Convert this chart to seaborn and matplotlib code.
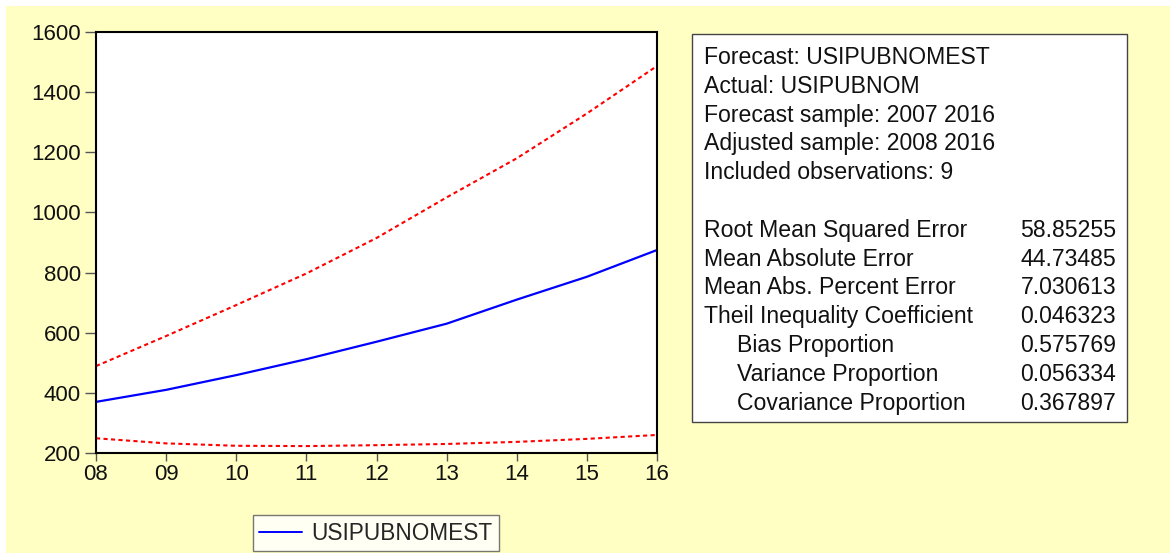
import pandas as pd
import seaborn as sns
import matplotlib.pyplot as plt
from matplotlib.patches import Rectangle
from matplotlib.lines import Line2D

# Forecast values
years = [2008, 2009, 2010, 2011, 2012, 2013, 2014, 2015, 2016]
year_labels = ['08', '09', '10', '11', '12', '13', '14', '15', '16']
forecast = [370, 410, 459, 512, 570, 630, 710, 786, 875]
upper_band = [489, 589, 692, 797, 915, 1050, 1180, 1329, 1487]
lower_band = [249, 232, 224, 223, 226, 230, 237, 247, 260]

info_lines = ['Forecast: USIPUBNOMEST', 'Actual: USIPUBNOM',
              'Forecast sample: 2007 2016', 'Adjusted sample: 2008 2016',
              'Included observations: 9']
stat_names = ['Root Mean Squared Error', 'Mean Absolute Error',
              'Mean Abs. Percent Error', 'Theil Inequality Coefficient',
              'Bias Proportion', 'Variance Proportion', 'Covariance Proportion']
stat_values = ['58.85255', '44.73485', '7.030613', '0.046323',
               '0.575769', '0.056334', '0.367897']

df = pd.DataFrame({'year': years, 'forecast': forecast,
                   'upper': upper_band, 'lower': lower_band})

sns.set_style('white')
plt.rcParams['font.family'] = ['Liberation Sans', 'DejaVu Sans']

W, H = 1170, 558
fig = plt.figure(figsize=(W / 100, H / 100), dpi=100, facecolor='white')


def fx(px):
    return px / W


def fy(py):
    return 1 - py / H


# yellow background
fig.add_artist(Rectangle((fx(6), fy(553)), fx(1170 - 6), (553 - 6) / H,
                         transform=fig.transFigure, facecolor='#FFFFC4',
                         edgecolor='none', zorder=0))

ax = fig.add_axes([fx(96), fy(453), fx(657 - 96), (453 - 32) / H])
ax.set_facecolor('white')

sns.lineplot(data=df, x='year', y='forecast', ax=ax, color='#0000FF', lw=1.6)
sns.lineplot(data=df, x='year', y='upper', ax=ax, color='#FF0000', lw=1.5,
             linestyle=(0, (2, 1.6)))
sns.lineplot(data=df, x='year', y='lower', ax=ax, color='#FF0000', lw=1.5,
             linestyle=(0, (2, 1.6)))

ax.set_xlim(2008, 2016)
ax.set_ylim(200, 1600)
ax.set_xticks(years)
ax.set_xticklabels(year_labels)
ax.set_yticks(range(200, 1601, 200))
ax.set_xlabel('')
ax.set_ylabel('')
ax.tick_params(axis='both', labelsize=16, colors='#555555', labelcolor='#111111',
               direction='out', width=1)
ax.tick_params(axis='y', length=8, left=True, pad=3)
ax.tick_params(axis='x', length=6, bottom=True, pad=2)
for s in ax.spines.values():
    s.set_color('black')
    s.set_linewidth(1.5)

# legend
handle = Line2D([], [], color='#0000FF', lw=1.4)
leg = fig.legend([handle], ['USIPUBNOMEST'], loc='center',
                 bbox_to_anchor=(fx(376), fy(533)), fontsize=16.3,
                 frameon=True, fancybox=False, handlelength=1.9,
                 handletextpad=0.4, borderpad=0.3, borderaxespad=0)
leg.get_frame().set_edgecolor('#555555')
leg.get_frame().set_linewidth(1)
leg.get_frame().set_facecolor('white')

# statistics box
fig.add_artist(Rectangle((fx(692), fy(422)), fx(1127 - 692), (422 - 34) / H,
                         transform=fig.transFigure, facecolor='white',
                         edgecolor='#444444', lw=1, zorder=1))
base = 64
step = 28.8
fs = 16.6
for i, t in enumerate(info_lines):
    fig.text(fx(704), fy(base + i * step), t, fontsize=fs, va='baseline',
             ha='left', color='#111111', zorder=2)
for j, (n, v) in enumerate(zip(stat_names, stat_values)):
    yb = base + (j + 6) * step
    xl = 737 if j >= 4 else 704
    fig.text(fx(xl), fy(yb), n, fontsize=fs, va='baseline', ha='left',
             color='#111111', zorder=2)
    fig.text(fx(1116), fy(yb), v, fontsize=fs, va='baseline', ha='right',
             color='#111111', zorder=2)

fig.savefig('out.png', dpi=100, facecolor='white')
